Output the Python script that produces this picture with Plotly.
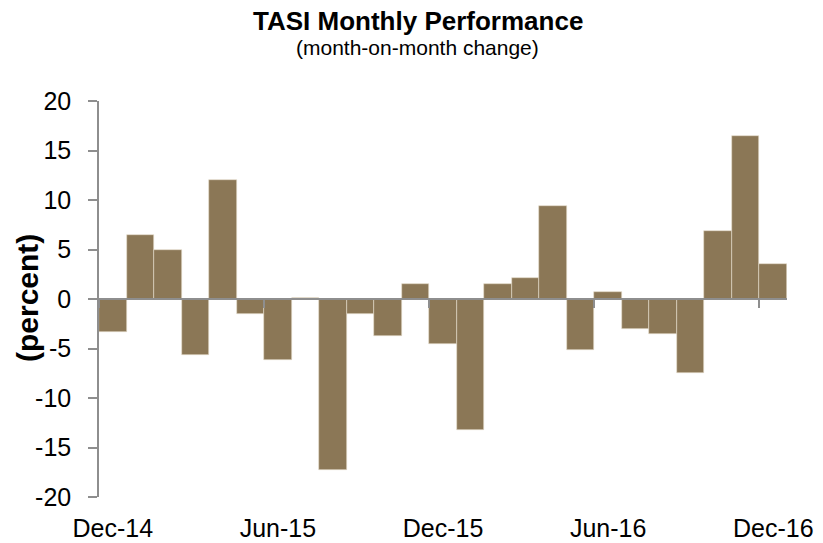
import plotly.graph_objects as go

months = ["Dec-14", "Jan-15", "Feb-15", "Mar-15", "Apr-15", "May-15", "Jun-15",
          "Jul-15", "Aug-15", "Sep-15", "Oct-15", "Nov-15", "Dec-15", "Jan-16",
          "Feb-16", "Mar-16", "Apr-16", "May-16", "Jun-16", "Jul-16", "Aug-16",
          "Sep-16", "Oct-16", "Nov-16", "Dec-16"]
mom_change = [-3.35, 6.5, 4.9, -5.7, 12.0, -1.5, -6.2,
              0.1, -17.3, -1.55, -3.75, 1.55, -4.5, -13.25,
              1.55, 2.1, 9.35, -5.2, 0.75, -3.05, -3.5,
              -7.5, 6.9, 16.5, 3.5]
label_months = ["Dec-14", "Jun-15", "Dec-15", "Jun-16", "Dec-16"]
y_ticks = [-20, -15, -10, -5, 0, 5, 10, 15, 20]
y_tick_text = ["-20", "-15", "-10", "-5", "0", "5", "10", "15", "20"]

idx = list(range(len(months)))
label_pos = [months.index(m) for m in label_months]
boundary_pos = [p - 0.5 for p in label_pos]

BAR = "#8B7756"
AXIS = "#8E8E8E"
FONT = "Liberation Sans, Arial, sans-serif"

W, H = 823, 543
ML, MR, MT, MB = 99, 36, 101, 46
plot_w = W - ML - MR
plot_h = H - MT - MB

def px_x(px):
    return (px - ML) / plot_w

def px_y(px_from_top):
    return 1 + (MT - px_from_top) / plot_h

fig = go.Figure()
fig.add_trace(go.Bar(
    x=idx, y=mom_change,
    marker=dict(color=BAR, line=dict(color="#E6DDCF", width=0.6)),
    hovertext=months, hoverinfo="text+y",
))
# helper invisible trace so the zero-line axis (with boundary ticks) is drawn
fig.add_trace(go.Scatter(x=[0], y=[0], xaxis="x2", mode="markers",
                         marker=dict(opacity=0), hoverinfo="skip", showlegend=False))

fig.update_layout(
    width=W, height=H,
    margin=dict(l=ML, r=MR, t=MT, b=MB, autoexpand=False),
    paper_bgcolor="white", plot_bgcolor="white",
    bargap=0, showlegend=False,
    font=dict(family=FONT, color="#000000"),
    xaxis=dict(
        range=[-0.5, 24.5], tickmode="array", tickvals=label_pos, ticktext=label_months,
        showline=False, ticks="", showgrid=False, zeroline=False, automargin=False,
        tickfont=dict(size=25, family=FONT), ticklabelstandoff=14,
    ),
    xaxis2=dict(
        overlaying="x", anchor="free", position=0.5, side="bottom", automargin=False,
        range=[-0.5, 24.5], tickmode="array", tickvals=boundary_pos,
        showticklabels=False, ticks="outside", ticklen=8, tickwidth=1.5, tickcolor=AXIS,
        showline=True, linecolor=AXIS, linewidth=1.5, showgrid=False, zeroline=False,
    ),
    yaxis=dict(
        range=[-20, 20], tickmode="array", tickvals=y_ticks, ticktext=y_tick_text,
        ticks="outside", ticklen=9, tickwidth=1.5, tickcolor=AXIS,
        showline=True, linecolor=AXIS, linewidth=1.5, automargin=False,
        showgrid=False, zeroline=False,
        tickfont=dict(size=25, family=FONT), ticklabelstandoff=12,
    ),
    annotations=[
        dict(text="<b>TASI Monthly Performance</b>", x=px_x(418), y=px_y(21),
             xref="paper", yref="paper", xanchor="center", yanchor="middle",
             showarrow=False, font=dict(size=26, family=FONT)),
        dict(text="(month-on-month change)", x=px_x(417), y=px_y(48),
             xref="paper", yref="paper", xanchor="center", yanchor="middle",
             showarrow=False, font=dict(size=21, family=FONT)),
        dict(text="<b>(percent)</b>", x=px_x(27), y=px_y(298), textangle=-90,
             xref="paper", yref="paper", xanchor="center", yanchor="middle",
             showarrow=False, font=dict(size=30, family=FONT)),
    ],
)

fig.write_html("out.html", config={"displayModeBar": False},
               post_script="document.body.style.margin='0';")
